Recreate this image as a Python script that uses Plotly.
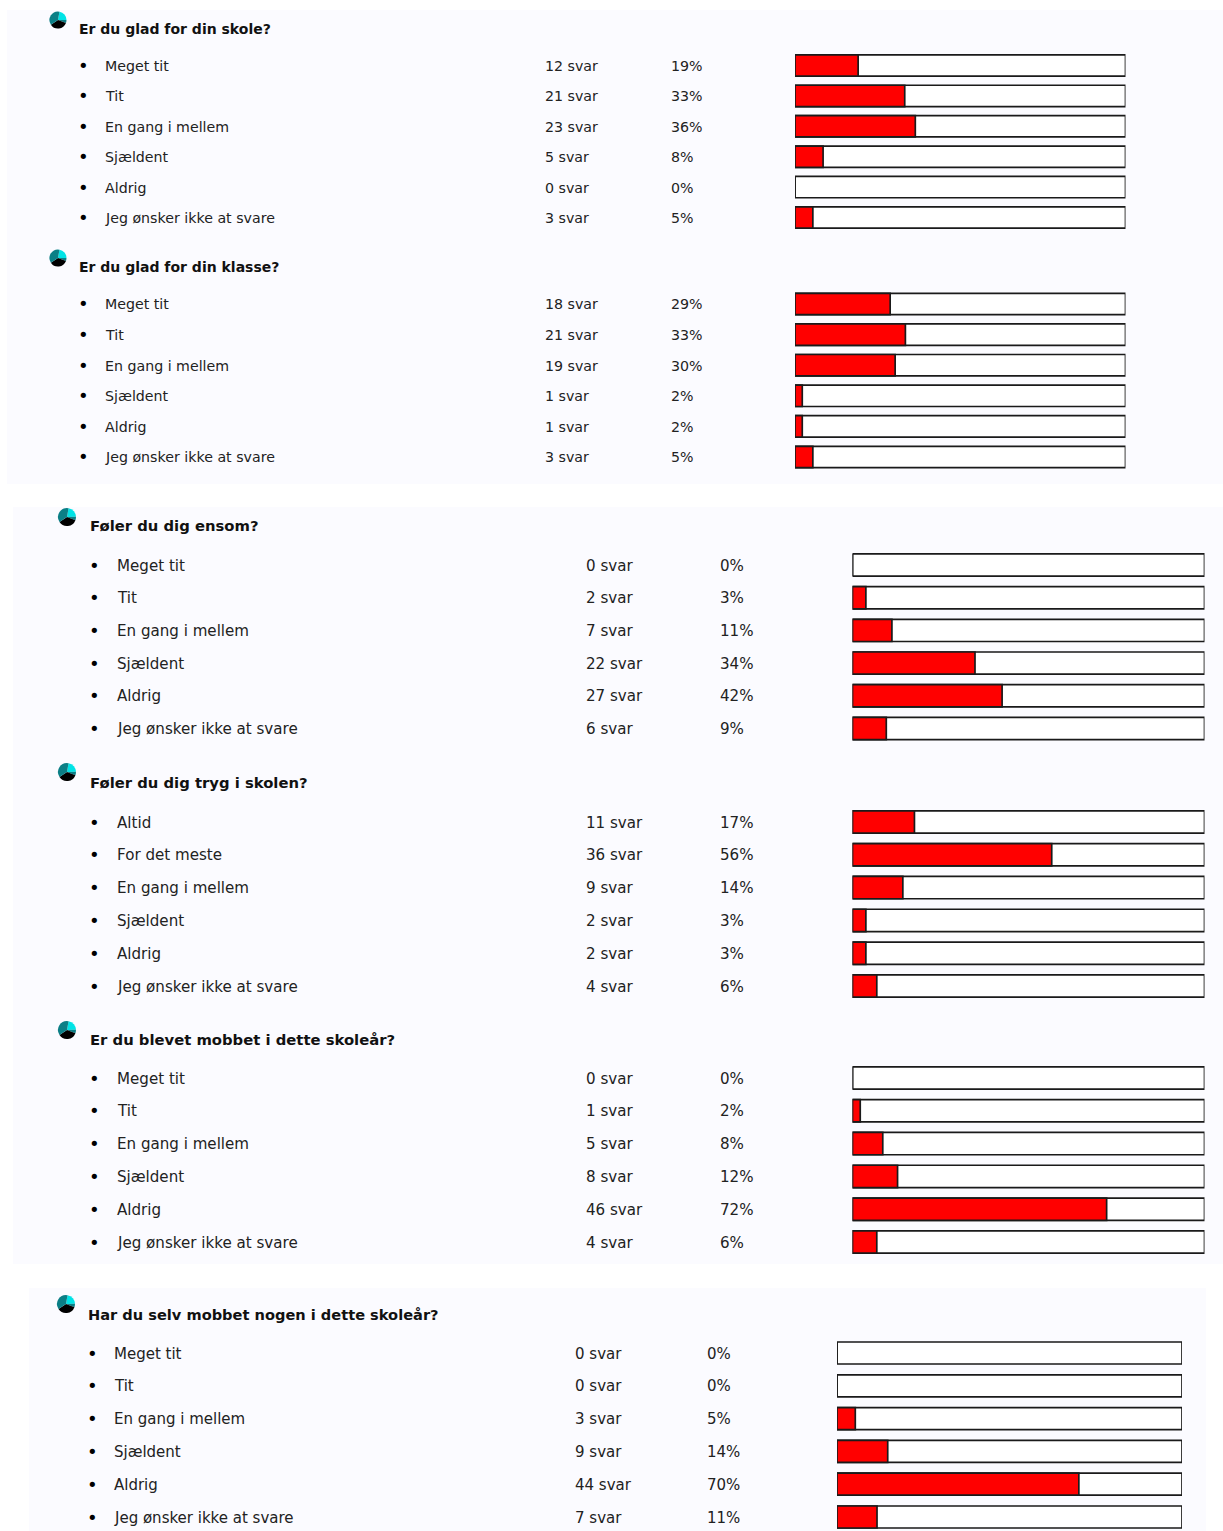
import plotly.graph_objects as go

W, H = 1223, 1531

questions = ["Er du glad for din skole?", "Er du glad for din klasse?", "Føler du dig ensom?",
             "Føler du dig tryg i skolen?", "Er du blevet mobbet i dette skoleår?",
             "Har du selv mobbet nogen i dette skoleår?"]
options_std = ["Meget tit", "Tit", "En gang i mellem", "Sjældent", "Aldrig", "Jeg ønsker ikke at svare"]
options_safe = ["Altid", "For det meste", "En gang i mellem", "Sjældent", "Aldrig", "Jeg ønsker ikke at svare"]
options = [options_std, options_std, options_std, options_safe, options_std, options_std]
answers = [[12, 21, 23, 5, 0, 3], [18, 21, 19, 1, 1, 3], [0, 2, 7, 22, 27, 6],
           [11, 36, 9, 2, 2, 4], [0, 1, 5, 8, 46, 4], [0, 0, 3, 9, 44, 7]]
percents = [[19, 33, 36, 8, 0, 5], [29, 33, 30, 2, 2, 5], [0, 3, 11, 34, 42, 9],
            [17, 56, 14, 3, 3, 6], [0, 2, 8, 12, 72, 6], [0, 0, 5, 14, 70, 11]]
# bar lengths (slightly longer than the printed, rounded percentages)
bar_lengths = [[19.1, 33.2, 36.4, 8.5, 0, 5.4], [28.8, 33.4, 30.3, 2.2, 2.2, 5.4], [0, 3.8, 11.2, 34.8, 42.5, 9.6],
               [17.6, 56.6, 14.3, 3.8, 3.8, 6.9], [0, 2.2, 8.6, 12.8, 72.2, 6.9], [0, 0, 5.3, 14.7, 70.1, 11.6]]

# layout in pixels: first row centre, row pitch, bar left/right, column x, title, icon
first_row = [65.5, 304, 565, 822, 1078, 1353]
pitch = [30.4, 30.6, 32.7, 32.8, 32.8, 32.8]
bar_left = [795, 795, 852.5, 852.5, 852.5, 837]
bar_right = [1125.5, 1125.5, 1204.5, 1204.5, 1204.5, 1182]
bullet_x = [83, 83, 94, 94, 94, 92]
label_x = [102.5, 102.5, 114.5, 114.5, 114.5, 112]
count_x = [542.5, 542.5, 583.5, 583.5, 583.5, 572.5]
pct_x = [668.5, 668.5, 717.5, 717.5, 717.5, 704.5]
title_x = [76.5, 76.5, 87.5, 87.5, 87.5, 85.5]
title_y = [28.7, 266.7, 526, 782.3, 1039.3, 1314.3]
icon_x = [58, 58, 67, 67, 67, 66]
icon_y = [20, 258, 517, 772, 1030, 1304]
icon_r = [8.5, 8.5, 9, 9, 9, 9]
font_row = [14.2, 14.2, 15.1, 15.1, 15.1, 15]
font_title = [14, 14, 14.8, 14.8, 14.8, 14.6]
bar_frac = [0.70, 0.70, 0.68, 0.68, 0.68, 0.67]
panels = [(7, 10, 1223, 484), (13, 507, 1223, 1264), (29, 1288, 1206, 1531)]
icon_slices = [22, 6, 35, 37]
icon_colors = ["#00e3e6", "#0b7f86", "#000000", "#0b7f86"]

FONT = "DejaVu Sans, Verdana, sans-serif"
TEXT = "#222222"

fig = go.Figure()
annotations = []
layout_axes = {}

def px(x):
    return x / W

def py(y):
    return 1 - y / H

for i, q in enumerate(questions):
    n = str(i + 1) if i else ""
    xa, ya = f"x{n}", f"y{n}"
    rows = list(range(len(options[i])))
    top = first_row[i] - pitch[i] / 2
    bottom = min(top + pitch[i] * len(rows), H)
    layout_axes[f"xaxis{n}"] = dict(domain=[px(bar_left[i]), px(bar_right[i])], range=[0, 100],
                                    visible=False, anchor=ya, fixedrange=True)
    layout_axes[f"yaxis{n}"] = dict(domain=[py(bottom), py(top)],
                                    range=[(bottom - first_row[i]) / pitch[i], -0.5],
                                    visible=False, anchor=xa, fixedrange=True)
    fig.add_trace(go.Bar(x=[100] * len(rows), y=rows, orientation="h", width=bar_frac[i], xaxis=xa, yaxis=ya,
                         marker=dict(color="#ffffff", line=dict(color="#1a1a1a", width=1.7)), hoverinfo="skip"))
    fig.add_trace(go.Bar(x=bar_lengths[i], y=rows, orientation="h", width=bar_frac[i], xaxis=xa, yaxis=ya,
                         marker=dict(color="#ff0000", line=dict(color="#1a1a1a", width=1.7)),
                         name=q, customdata=percents[i], hovertemplate="%{customdata}%<extra></extra>"))
    fig.add_trace(go.Pie(values=icon_slices, sort=False, direction="clockwise", rotation=10, textinfo="none",
                         marker=dict(colors=icon_colors, line=dict(width=0)), showlegend=False, hoverinfo="skip",
                         domain=dict(x=[px(icon_x[i] - icon_r[i]), px(icon_x[i] + icon_r[i])],
                                     y=[py(icon_y[i] + icon_r[i]), py(icon_y[i] - icon_r[i])])))
    annotations.append(dict(text=f"<b>{q}</b>", x=px(title_x[i]), y=py(title_y[i]), xref="paper", yref="paper",
                            xanchor="left", yanchor="middle", showarrow=False,
                            font=dict(family=FONT, size=font_title[i], color="#111111")))
    for r in rows:
        annotations.append(dict(text="•", x=px(bullet_x[i]), y=r, xref="paper", yref=ya,
                                xanchor="center", yanchor="middle", showarrow=False,
                                font=dict(family=FONT, size=18, color="#000000")))
        columns = [(options[i][r], label_x[i]), (f"{answers[i][r]} svar", count_x[i]), (f"{percents[i][r]}%", pct_x[i])]
        for text, x in columns:
            annotations.append(dict(text=text, x=px(x), y=r, xref="paper", yref=ya, yshift=-0.5,
                                    xanchor="left", yanchor="middle", showarrow=False,
                                    font=dict(family=FONT, size=font_row[i], color=TEXT)))

shapes = [dict(type="rect", xref="paper", yref="paper", x0=px(a), x1=px(c), y0=py(d), y1=py(b),
               fillcolor="#fbfbff", line=dict(width=0), layer="below") for a, b, c, d in panels]

fig.update_layout(width=W, height=H, margin=dict(l=0, r=0, t=0, b=0), autosize=False,
                  paper_bgcolor="#ffffff", plot_bgcolor="rgba(0,0,0,0)", barmode="overlay", showlegend=False,
                  annotations=annotations, shapes=shapes, font=dict(family=FONT), **layout_axes)

fig.write_html("out.html", config=dict(displayModeBar=False),
               post_script="document.body.style.margin='0';document.body.style.overflow='hidden';")
